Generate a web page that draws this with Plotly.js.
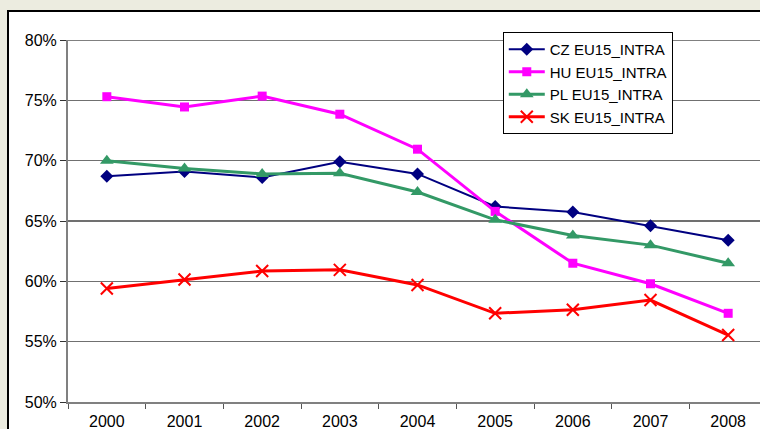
<!DOCTYPE html>
<html><head><meta charset="utf-8">
<script src="https://cdn.plot.ly/plotly-3.0.1.min.js"></script>
<style>
html,body{margin:0;padding:0;overflow:hidden;background:#ECECE0;width:760px;height:429px;}
#frame{position:absolute;left:7px;top:10px;width:800px;height:460px;border:2px solid #000;background:#fff;}
#chart{position:absolute;left:0;top:0;width:780px;height:429px;}
</style></head>
<body>
<div id="frame"></div>
<div id="chart"></div>
<script>
var years = ["2000","2001","2002","2003","2004","2005","2006","2007","2008"];
var seriesNames = ["CZ EU15_INTRA","HU EU15_INTRA","PL EU15_INTRA","SK EU15_INTRA"];
var cz = [68.7, 69.1, 68.6, 69.9, 68.9, 66.2, 65.75, 64.6, 63.4];
var hu = [75.3, 74.45, 75.35, 73.85, 70.95, 65.8, 61.5, 59.8, 57.35];
var pl = [70.0, 69.35, 68.9, 68.95, 67.4, 65.1, 63.8, 63.0, 61.5];
var sk = [59.4, 60.15, 60.85, 60.95, 59.7, 57.35, 57.65, 58.45, 55.55];
var yTicks = [50,55,60,65,70,75,80];
var yTickText = ["50%","55%","60%","65%","70%","75%","80%"];

var traces = [
 {x:years,y:cz,name:seriesNames[0],legendgroup:"a",mode:"lines+markers",
  line:{color:"#000080",width:2},marker:{symbol:"diamond",size:10,color:"#000080"}},
 {x:years,y:hu,name:seriesNames[1],legendgroup:"b",mode:"lines+markers",
  line:{color:"#FF00FF",width:3},marker:{symbol:"square",size:9,color:"#FF00FF"}},
 {x:years,y:pl,name:seriesNames[2],legendgroup:"c",mode:"lines+markers",
  line:{color:"#339966",width:3},marker:{symbol:"triangle-up",size:12,color:"#339966"}},
 {x:years,y:sk,name:seriesNames[3],legendgroup:"d",mode:"lines+markers",
  line:{color:"#FF0000",width:3},marker:{symbol:"x-thin-open",size:12,line:{color:"#FF0000",width:2}}}
];
var layout = {
 width:780,height:429,
 margin:{l:68,r:13,t:40,b:27},
 paper_bgcolor:"rgba(0,0,0,0)",plot_bgcolor:"rgba(0,0,0,0)",
 font:{family:"Liberation Sans, Arial, sans-serif",size:16,color:"#000"},
 showlegend:true,
 legend:{x:0.622,y:1.022,xanchor:"left",yanchor:"top",bgcolor:"#fff",bordercolor:"#000",borderwidth:1,
  font:{size:15},traceorder:"grouped",tracegroupgap:0,itemwidth:36},
 xaxis:{type:"category",tickson:"boundaries",ticks:"outside",ticklen:5,tickcolor:"#555",
  showline:true,linecolor:"#808080",linewidth:2,showgrid:false,range:[-0.5,8.5],fixedrange:true,
  tickfont:{size:16},ticklabelstandoff:4},
 yaxis:{range:[50,80],tickvals:yTicks,ticktext:yTickText,ticks:"outside",ticklen:6,tickcolor:"#333",
  showline:true,linecolor:"#808080",linewidth:2,showgrid:true,gridcolor:"#707070",gridwidth:1.5,zeroline:false,
  tickfont:{size:16},ticklabelstandoff:0},
 shapes:[{type:"line",xref:"paper",yref:"y",x0:0,x1:1,y0:80,y1:80,line:{color:"#808080",width:2}}]
};
Plotly.newPlot("chart",traces,layout,{displayModeBar:false,staticPlot:true});
</script>
</body></html>
